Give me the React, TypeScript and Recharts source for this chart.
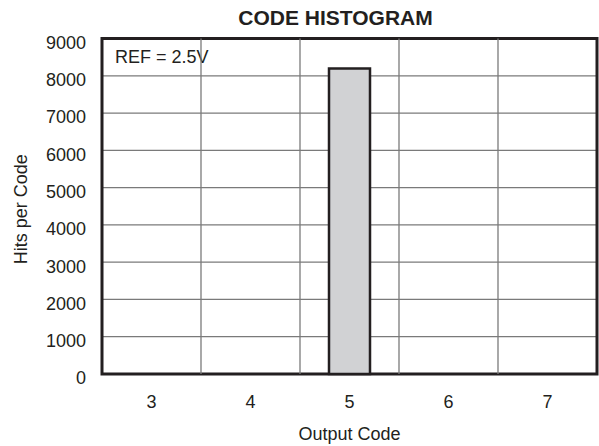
import { BarChart, Bar, XAxis, YAxis, CartesianGrid, ReferenceArea, ReferenceLine, Label } from 'recharts';

const codes = [3, 4, 5, 6, 7];
const hits = [0, 0, 8192, 0, 0];
const yTicks = [0, 1000, 2000, 3000, 4000, 5000, 6000, 7000, 8000, 9000];
const TITLE = 'CODE HISTOGRAM';
const NOTE = 'REF = 2.5V';
const X_LABEL = 'Output Code';
const Y_LABEL = 'Hits per Code';

const INK = '#231f20';
const GRID = '#7a7a7a';
const FONT = '"Liberation Sans", Arial, Helvetica, sans-serif';

const data = codes.map((code, i) => ({ code, hits: hits[i] }));
// borders between codes (the grid sits between the bars, not on them)
const bounds = codes.slice(0, -1).map((c) => c + 0.5);
const xMin = codes[0] - 0.5;
const xMax = codes[codes.length - 1] + 0.5;

const TitleLabel = ({ viewBox }: any) => (
  <text
    x={viewBox.x + viewBox.width / 2 - 14}
    y={viewBox.y - 13.5}
    textAnchor="middle"
    fontSize={21}
    fontWeight="bold"
    fill={INK}
    fontFamily={FONT}
  >
    {TITLE}
  </text>
);

const NoteLabel = ({ viewBox }: any) => (
  <text x={viewBox.x + 13} y={viewBox.y + 24.5} fontSize={18} fill={INK} fontFamily={FONT}>
    {NOTE}
  </text>
);

const XLabel = ({ viewBox }: any) => (
  <text
    x={viewBox.x + viewBox.width / 2}
    y={viewBox.y + 66}
    textAnchor="middle"
    fontSize={18}
    fill={INK}
    fontFamily={FONT}
  >
    {X_LABEL}
  </text>
);

const YLabel = ({ viewBox }: any) => {
  const cx = viewBox.x + 21;
  const cy = viewBox.y + viewBox.height / 2 + 3;
  return (
    <text
      x={cx}
      y={cy}
      transform={`rotate(-90 ${cx} ${cy})`}
      textAnchor="middle"
      dominantBaseline="central"
      fontSize={18}
      fill={INK}
      fontFamily={FONT}
    >
      {Y_LABEL}
    </text>
  );
};

export default function App() {
  return (
    <div style={{ position: 'absolute', left: 0, top: 0, background: '#fff' }}>
      <BarChart
        width={599}
        height={446}
        data={data}
        margin={{ top: 38.5, right: 2, bottom: 0, left: 0 }}
        style={{ fontFamily: FONT }}
      >
        <CartesianGrid vertical={false} stroke={GRID} strokeWidth={1.3} />
        <XAxis
          dataKey="code"
          type="number"
          domain={[xMin, xMax]}
          ticks={codes}
          height={72}
          axisLine={false}
          tickLine={false}
          tickMargin={15}
          tick={{ fontSize: 18, fill: INK }}
          interval={0}
        >
          <Label content={<XLabel />} />
        </XAxis>
        <YAxis
          domain={[0, 9000]}
          ticks={yTicks}
          width={102}
          axisLine={false}
          tickLine={false}
          tickMargin={10}
          tick={{ fontSize: 18, fill: INK, dy: 4 }}
          interval={0}
        >
          <Label content={<YLabel />} />
        </YAxis>
        {bounds.map((b) => (
          <ReferenceLine key={b} x={b} stroke={GRID} strokeWidth={1.3} />
        ))}
        <Bar
          dataKey="hits"
          barSize={41}
          fill="#d1d2d4"
          stroke={INK}
          strokeWidth={2.5}
          isAnimationActive={false}
        />
        <ReferenceArea x1={xMin} x2={xMax} y1={0} y2={9000} fill="none" stroke={INK} strokeWidth={3}>
          <Label content={<TitleLabel />} />
          <Label content={<NoteLabel />} />
        </ReferenceArea>
      </BarChart>
    </div>
  );
}
